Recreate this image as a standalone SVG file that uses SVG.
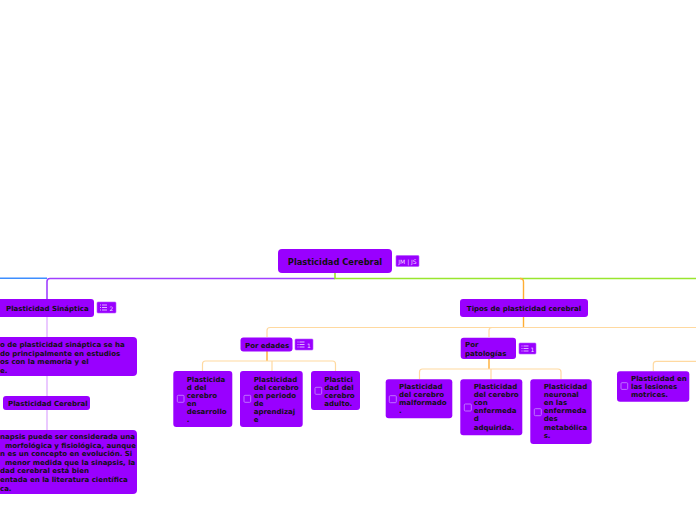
<svg xmlns="http://www.w3.org/2000/svg" width="696" height="520" viewBox="0 0 696 520">
<defs>
<style>
.n{fill:#9900ff;}
.t{font-family:"DejaVu Sans","Verdana",sans-serif;font-weight:bold;font-size:7px;fill:#111;}
.tr{font-family:"DejaVu Sans","Verdana",sans-serif;font-weight:bold;font-size:8.3px;fill:#111;}
.bd{fill:#9900ff;stroke:#b655ff;stroke-width:0.6;}
.bt{font-family:"DejaVu Sans",sans-serif;font-size:6px;fill:#f0ddff;}
.ic{stroke:#f0ddff;stroke-width:0.8;fill:none;}
.cb{fill:none;stroke:#c47dff;stroke-width:0.9;}
.lp{fill:none;stroke:#a040ff;stroke-width:1.6;}
.lb{fill:none;stroke:#3d8eff;stroke-width:1.6;}
.lg{fill:none;stroke:#99e62e;stroke-width:1.6;}
.lpl{fill:none;stroke:#e2b3ff;stroke-width:1.4;}
.lo{fill:none;stroke:#ffad33;stroke-width:1.4;}
.lol{fill:none;stroke:#ffd9a0;stroke-width:1.2;}
</style>
<g id="listicon">
<path class="ic" d="M0,0.5h1 M2,0.5h5 M0,3h1 M2,3h5 M0,5.5h1 M2,5.5h5"/>
</g>
</defs>
<rect width="696" height="520" fill="#ffffff"/>

<g id="connectors">
<path class="lb" d="M0,278.3H47"/>
<path class="lp" d="M335,278.5H50Q47,278.5 47,281.5V299"/>
<path class="lg" d="M335,273V278.5H696"/>
<path class="lo" d="M520,278.5Q523.5,278.5 523.5,282V299"/>
<path class="lpl" d="M47,317V337 M47,376V396 M47,410V430"/>
<path class="lo" d="M523.5,317V327.5"/>
<path class="lol" d="M696,327.5H270Q267,327.5 267,330.5V337 M492,327.5Q489,327.5 489,330.5V337"/>
<path class="lo" d="M267,351V361"/>
<path class="lol" d="M202.5,371V364Q202.5,361 205.5,361H332.5Q335.5,361 335.5,364V371 M272,361V371"/>
<path class="lo" d="M489,359V369"/>
<path class="lol" d="M419.5,379V372Q419.5,369 422.5,369H558Q561,369 561,372V379 M491,369V379"/>
<path class="lol" d="M653.3,371V364.3Q653.3,361.3 656.3,361.3H696"/>
</g>

<g id="root">
<rect class="n" x="278" y="249" width="114" height="24" rx="4"/>
<text class="tr" x="335" y="264.5" text-anchor="middle">Plasticidad Cerebral</text>
<rect class="bd" x="396" y="255.5" width="23" height="11" rx="1"/>
<text class="bt" x="407.5" y="263.5" text-anchor="middle">JM | JS</text>
</g>

<g id="sinaptica">
<rect class="n" x="-6" y="299" width="100" height="18" rx="3"/>
<text class="t" x="6" y="311">Plasticidad Sináptica</text>
<rect class="bd" x="97" y="302" width="19" height="11" rx="1"/>
<use href="#listicon" x="100" y="304.5"/>
<text class="bt" x="109.5" y="310.8">2</text>
</g>

<g id="nota1">
<rect class="n" x="-10" y="337" width="147" height="39" rx="4"/>
<text class="t" x="0" y="347">o de plasticidad sináptica se ha</text>
<text class="t" x="0" y="355.7">do principalmente en estudios</text>
<text class="t" x="0" y="364.4">os con la memoria y el</text>
<text class="t" x="0" y="373">e.</text>
</g>

<g id="plasticidad-cerebral-2">
<rect class="n" x="3" y="396" width="87" height="14" rx="3"/>
<text class="t" x="8" y="406">Plasticidad Cerebral</text>
</g>

<g id="nota2">
<rect class="n" x="-10" y="430" width="147" height="64" rx="4"/>
<text class="t" x="0" y="439">napsis puede ser considerada una</text>
<text class="t" x="5" y="447.6">morfológica y fisiológica, aunque</text>
<text class="t" x="0" y="456.2">n es un concepto en evolución. Si</text>
<text class="t" x="5" y="464.8">menor medida que la sinapsis, la</text>
<text class="t" x="0" y="473.4">dad cerebral está bien</text>
<text class="t" x="0" y="482">entada en la literatura científica</text>
<text class="t" x="0" y="490.6">ca.</text>
</g>

<g id="tipos">
<rect class="n" x="460" y="299" width="128" height="18" rx="3"/>
<text class="t" x="524" y="311" text-anchor="middle">Tipos de plasticidad cerebral</text>
</g>

<g id="por-edades">
<rect class="n" x="240.5" y="337.5" width="52" height="14" rx="3"/>
<text class="t" x="245" y="347.5">Por edades</text>
<rect class="bd" x="295" y="339" width="18" height="11" rx="1"/>
<use href="#listicon" x="297.5" y="341.5"/>
<text class="bt" x="307" y="347.8">1</text>
</g>

<g id="edad-desarrollo">
<rect class="n" x="173.3" y="371" width="59" height="56" rx="3"/>
<rect class="cb" x="177.3" y="395.3" width="6.7" height="7" rx="1"/>
<text class="t" x="186.7" y="381.5">Plasticida</text>
<text class="t" x="186.7" y="389.6">d del</text>
<text class="t" x="186.7" y="397.7">cerebro</text>
<text class="t" x="186.7" y="405.8">en</text>
<text class="t" x="186.7" y="413.9">desarrollo</text>
<text class="t" x="186.7" y="422">.</text>
</g>

<g id="edad-aprendizaje">
<rect class="n" x="240" y="371" width="62.7" height="56" rx="3"/>
<rect class="cb" x="244" y="395.3" width="6.7" height="7" rx="1"/>
<text class="t" x="253.7" y="381.5">Plasticidad</text>
<text class="t" x="253.7" y="389.6">del cerebro</text>
<text class="t" x="253.7" y="397.7">en periodo</text>
<text class="t" x="253.7" y="405.8">de</text>
<text class="t" x="253.7" y="413.9">aprendizaj</text>
<text class="t" x="253.7" y="422">e</text>
</g>

<g id="edad-adulto">
<rect class="n" x="311" y="371" width="49" height="39" rx="3"/>
<rect class="cb" x="315" y="387.3" width="6.7" height="7" rx="1"/>
<text class="t" x="324.3" y="381.5">Plastici</text>
<text class="t" x="324.3" y="389.6">dad del</text>
<text class="t" x="324.3" y="397.7">cerebro</text>
<text class="t" x="324.3" y="405.8">adulto.</text>
</g>

<g id="por-patologias">
<rect class="n" x="460.7" y="337.7" width="55.3" height="21.3" rx="3"/>
<text class="t" x="465" y="346.7">Por</text>
<text class="t" x="465" y="355.5">patologías</text>
<rect class="bd" x="519" y="343" width="17" height="11" rx="1"/>
<use href="#listicon" x="521.5" y="345.5"/>
<text class="bt" x="530.5" y="351.8">1</text>
</g>

<g id="pat-malformado">
<rect class="n" x="385.7" y="379.3" width="66.6" height="39" rx="3"/>
<rect class="cb" x="389.3" y="395.7" width="7" height="7" rx="1"/>
<text class="t" x="399" y="389">Plasticidad</text>
<text class="t" x="399" y="397.1">del cerebro</text>
<text class="t" x="399" y="405.2">malformado</text>
<text class="t" x="399" y="413.3">.</text>
</g>

<g id="pat-adquirida">
<rect class="n" x="460.3" y="379.3" width="62" height="56" rx="3"/>
<rect class="cb" x="464.3" y="404" width="7" height="7" rx="1"/>
<text class="t" x="473.7" y="389">Plasticidad</text>
<text class="t" x="473.7" y="397.1">del cerebro</text>
<text class="t" x="473.7" y="405.2">con</text>
<text class="t" x="473.7" y="413.3">enfermeda</text>
<text class="t" x="473.7" y="421.4">d</text>
<text class="t" x="473.7" y="429.5">adquirida.</text>
</g>

<g id="pat-metabolicas">
<rect class="n" x="530.3" y="379.3" width="61.4" height="64.7" rx="3"/>
<rect class="cb" x="534.3" y="408.7" width="7" height="7" rx="1"/>
<text class="t" x="543.7" y="389">Plasticidad</text>
<text class="t" x="543.7" y="397.1">neuronal</text>
<text class="t" x="543.7" y="405.2">en las</text>
<text class="t" x="543.7" y="413.3">enfermeda</text>
<text class="t" x="543.7" y="421.4">des</text>
<text class="t" x="543.7" y="429.5">metabólica</text>
<text class="t" x="543.7" y="437.6">s.</text>
</g>

<g id="lesiones-motrices">
<rect class="n" x="617" y="371.3" width="72.3" height="30.4" rx="3"/>
<rect class="cb" x="621" y="382.7" width="6.7" height="6.7" rx="1"/>
<text class="t" x="631" y="381">Plasticidad en</text>
<text class="t" x="631" y="389.1">las lesiones</text>
<text class="t" x="631" y="397.2">motrices.</text>
</g>
</svg>
